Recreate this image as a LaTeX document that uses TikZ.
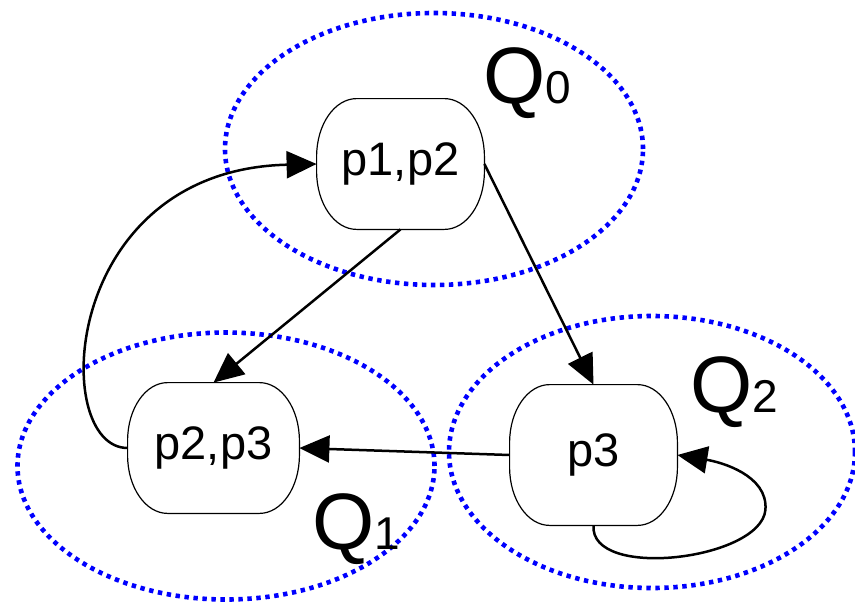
\documentclass[tikz,border=0pt]{standalone}
\usepackage{fontspec}
\setmainfont{Liberation Sans}
\usetikzlibrary{arrows.meta,calc}
\tikzset{
  region/.style={draw={rgb,255:red,0;green,0;blue,255}, line width=2.3pt, dash pattern=on 2.2pt off 2.3pt},
  statenode/.style={draw=none, rectangle, inner sep=0pt, font=\fontsize{23.5}{27}\selectfont},
  stateborder/.style={draw=black, line width=0.6pt, fill=white},
  edgeline/.style={draw=black, line width=1.25pt, -{Triangle[length=15pt,width=13.5pt]}},
  qlabel/.style={inner sep=0pt, anchor=base west}
}
\newcommand\mystatebox[1]{%
  \path[stateborder] ([xshift=20pt]#1.north west) -- ([xshift=-20pt]#1.north east)
    arc[start angle=90,end angle=0,x radius=20pt,y radius=29pt]
    -- ([yshift=29pt]#1.south east)
    arc[start angle=0,end angle=-90,x radius=20pt,y radius=29pt]
    -- ([xshift=20pt]#1.south west)
    arc[start angle=270,end angle=180,x radius=20pt,y radius=29pt]
    -- ([yshift=-29pt]#1.north west)
    arc[start angle=180,end angle=90,x radius=20pt,y radius=29pt] -- cycle;}
\begin{document}
\begin{tikzpicture}[x=0.5pt,y=-0.5pt]
\useasboundingbox (0,0) rectangle (855,605);
% regions
\draw[region] (434,149) ellipse [x radius=104.5pt, y radius=68pt];
\draw[region] (226,466) ellipse [x radius=104.25pt, y radius=66.75pt];
\draw[region] (652,452) ellipse [x radius=101.5pt, y radius=68pt];
% state nodes
\node[statenode, minimum width=83.5pt, minimum height=65pt] (a) at (400.5,164) {};
\node[statenode, minimum width=85.5pt, minimum height=65pt] (b) at (213.5,448) {};
\node[statenode, minimum width=83.5pt, minimum height=70pt] (c) at (593.5,455) {};
\mystatebox{a}
\mystatebox{b}
\mystatebox{c}
\node[statenode] (ta) at (a) {p1,p2};
\node[statenode] (tb) at (b) {p2,p3};
\node[statenode] (tc) at (c) {p3};
% labels
\node[qlabel] (q0) at (483,103) {\fontsize{40}{44}\selectfont Q\fontsize{23}{27}\selectfont 0};
\node[qlabel] (q1) at (312,549) {\fontsize{40}{44}\selectfont Q\fontsize{23}{27}\selectfont 1};
\node[qlabel] (q2) at (690,412) {\fontsize{40}{44}\selectfont Q\fontsize{23}{27}\selectfont 2};
% edges
\draw[edgeline] (b.west) .. controls ($(b.west)+(-78,0)$) and ($(a.west)+(-257,6)$) .. (a.west);
\draw[edgeline] (a.south) -- (b.north);
\draw[edgeline] (a.east) -- (c.north);
\draw[edgeline] (c.west) -- (b.east);
\coordinate (loopR) at ($(c.east)+(88,55)$);
\draw[edgeline] (c.south) .. controls ($(c.south)+(-4,55)$) and ($(loopR)+(-5,50)$) .. (loopR)
  .. controls ($(loopR)+(3,-35)$) and ($(c.east)+(43,7)$) .. (c.east);
\end{tikzpicture}
\end{document}
